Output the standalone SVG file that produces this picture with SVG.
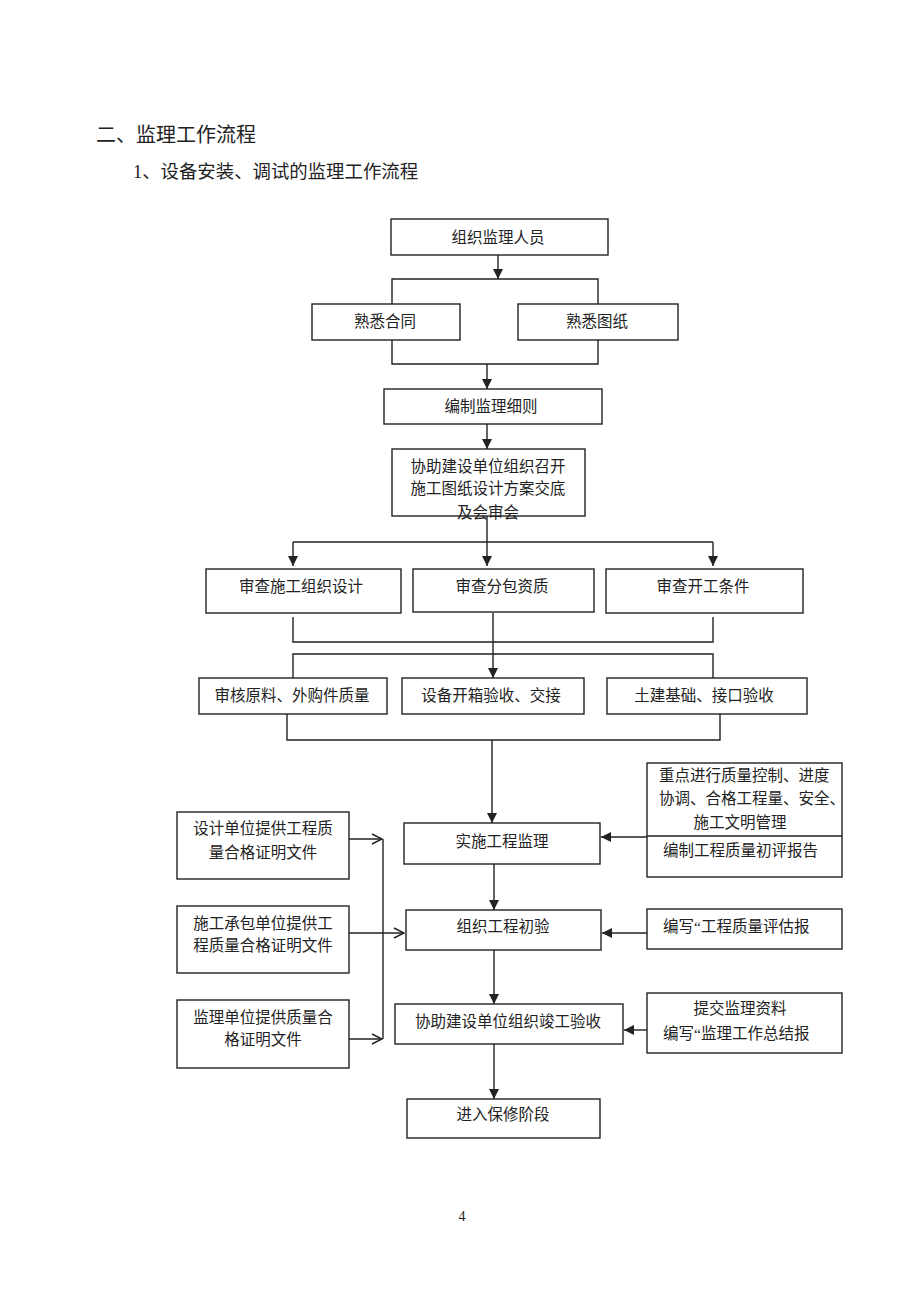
<svg xmlns="http://www.w3.org/2000/svg" width="920" height="1302" viewBox="0 0 920 1302">
<defs>
<style>
text{font-family:"Liberation Serif","Noto Sans CJK SC",serif;fill:#222;}
.t{font-size:15.5px;}
.m{text-anchor:middle;}
.box{fill:#fff;stroke:#222;stroke-width:1.4;}
.ln{fill:none;stroke:#222;stroke-width:1.4;}
.open{fill:none;stroke:#222;stroke-width:1.4;}
</style>
<marker id="ah" viewBox="0 0 10 10" refX="10" refY="5" markerWidth="10" markerHeight="10" markerUnits="userSpaceOnUse" orient="auto">
<path d="M0,0 L10,5 L0,10 z" fill="#222"/>
</marker>
<marker id="ao" viewBox="0 0 12 12" refX="11" refY="6" markerWidth="12" markerHeight="12" markerUnits="userSpaceOnUse" orient="auto">
<path d="M1,1 L11,6 L1,11" fill="none" stroke="#222" stroke-width="1.4"/>
</marker>
</defs>
<rect width="920" height="1302" fill="#fff"/>
<text x="96" y="142" style="font-size:20px">二、监理工作流程</text>
<text x="133" y="178" style="font-size:18.4px">1、设备安装、调试的监理工作流程</text>

<g id="connectors">
<line class="ln" x1="498" y1="255" x2="498" y2="279" marker-end="url(#ah)"/>
<polyline class="ln" points="392,304 392,279 598,279 598,304"/>
<polyline class="ln" points="392,340 392,364 598,364 598,340"/>
<line class="ln" x1="487" y1="364" x2="487" y2="389" marker-end="url(#ah)"/>
<line class="ln" x1="487" y1="424" x2="487" y2="449" marker-end="url(#ah)"/>
<line class="ln" x1="487" y1="516" x2="487" y2="542"/>
<line class="ln" x1="293" y1="542" x2="713" y2="542"/>
<line class="ln" x1="293" y1="542" x2="293" y2="566" marker-end="url(#ah)"/>
<line class="ln" x1="487" y1="542" x2="487" y2="566" marker-end="url(#ah)"/>
<line class="ln" x1="713" y1="542" x2="713" y2="566" marker-end="url(#ah)"/>
<polyline class="ln" points="293,617 293,642 713,642 713,617"/>
<polyline class="ln" points="293,678 293,654 713,654 713,678"/>
<line class="ln" x1="493" y1="613" x2="493" y2="678" marker-end="url(#ah)"/>
<polyline class="ln" points="287,714 287,740 720,740 720,714"/>
<line class="ln" x1="492" y1="740" x2="492" y2="823" marker-end="url(#ah)"/>
<line class="ln" x1="494" y1="864" x2="494" y2="910" marker-end="url(#ah)"/>
<line class="ln" x1="494" y1="950" x2="494" y2="1004" marker-end="url(#ah)"/>
<line class="ln" x1="494" y1="1044" x2="494" y2="1099" marker-end="url(#ah)"/>
<line class="ln" x1="647" y1="837" x2="601" y2="837" marker-end="url(#ah)"/>
<line class="ln" x1="647" y1="933" x2="602" y2="933" marker-end="url(#ah)"/>
<line class="ln" x1="647" y1="1030" x2="624" y2="1030" marker-end="url(#ah)"/>
<line class="ln" x1="383" y1="839" x2="383" y2="1039"/>
<line class="ln" x1="349" y1="839" x2="382" y2="839" marker-end="url(#ao)"/>
<line class="ln" x1="349" y1="933" x2="404" y2="933" marker-end="url(#ao)"/>
<line class="ln" x1="349" y1="1039" x2="382" y2="1039" marker-end="url(#ao)"/>
</g>

<g id="n1"><rect class="box" x="391" y="219" width="217" height="36"/><text class="t m" x="498" y="243">组织监理人员</text></g>
<g id="n2"><rect class="box" x="312" y="304" width="148" height="36"/><text class="t m" x="385" y="327">熟悉合同</text></g>
<g id="n3"><rect class="box" x="518" y="304" width="160" height="36"/><text class="t m" x="597" y="327">熟悉图纸</text></g>
<g id="n4"><rect class="box" x="384" y="389" width="218" height="35"/><text class="t m" x="491" y="412">编制监理细则</text></g>
<g id="n5"><rect class="box" x="392" y="449" width="193" height="67"/>
<text class="t m" x="488" y="472">协助建设单位组织召开</text>
<text class="t m" x="488" y="494">施工图纸设计方案交底</text>
<text class="t m" x="488" y="518">及会审会</text></g>
<g id="n6"><rect class="box" x="206" y="569" width="195" height="44"/><text class="t m" x="301" y="592">审查施工组织设计</text></g>
<g id="n7"><rect class="box" x="413" y="569" width="181" height="43"/><text class="t m" x="502" y="592">审查分包资质</text></g>
<g id="n8"><rect class="box" x="606" y="569" width="197" height="44"/><text class="t m" x="703" y="592">审查开工条件</text></g>
<g id="n9"><rect class="box" x="199" y="678" width="188" height="36"/><text class="t m" x="292" y="701">审核原料、外购件质量</text></g>
<g id="n10"><rect class="box" x="402" y="678" width="182" height="36"/><text class="t m" x="491" y="701">设备开箱验收、交接</text></g>
<g id="n11"><rect class="box" x="607" y="678" width="200" height="36"/><text class="t m" x="704" y="701">土建基础、接口验收</text></g>
<g id="n12"><rect class="box" x="404" y="823" width="196" height="41"/><text class="t m" x="502" y="847">实施工程监理</text></g>
<g id="n13"><rect class="box" x="647" y="763" width="195" height="114"/>
<line class="ln" x1="647" y1="836" x2="842" y2="836"/>
<text class="t" x="659" y="781">重点进行质量控制、进度</text>
<text class="t" x="659" y="804">协调、合格工程量、安全、</text>
<text class="t m" x="740" y="828">施工文明管理</text>
<text class="t" x="663" y="856">编制工程质量初评报告</text></g>
<g id="n14"><rect class="box" x="177" y="812" width="172" height="67"/>
<text class="t m" x="263" y="834">设计单位提供工程质</text>
<text class="t m" x="263" y="858">量合格证明文件</text></g>
<g id="n15"><rect class="box" x="406" y="910" width="195" height="40"/><text class="t m" x="503" y="932">组织工程初验</text></g>
<g id="n16"><rect class="box" x="647" y="909" width="195" height="40"/><text class="t" x="663" y="932">编写“工程质量评估报</text></g>
<g id="n17"><rect class="box" x="177" y="906" width="172" height="67"/>
<text class="t m" x="263" y="929">施工承包单位提供工</text>
<text class="t m" x="263" y="951">程质量合格证明文件</text></g>
<g id="n18"><rect class="box" x="395" y="1004" width="228" height="40"/><text class="t m" x="508" y="1027">协助建设单位组织竣工验收</text></g>
<g id="n19"><rect class="box" x="647" y="993" width="195" height="60"/>
<text class="t m" x="740" y="1014">提交监理资料</text>
<text class="t" x="663" y="1039">编写“监理工作总结报</text></g>
<g id="n20"><rect class="box" x="177" y="1000" width="172" height="68"/>
<text class="t m" x="263" y="1023">监理单位提供质量合</text>
<text class="t m" x="263" y="1045">格证明文件</text></g>
<g id="n21"><rect class="box" x="407" y="1099" width="193" height="39"/><text class="t m" x="503" y="1120">进入保修阶段</text></g>
<text x="462" y="1221" style="font-size:14px;text-anchor:middle">4</text>
</svg>
